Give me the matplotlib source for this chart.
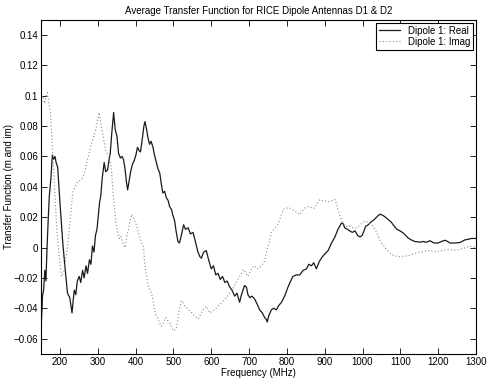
import matplotlib

matplotlib.use("Agg")

import matplotlib.pyplot as plt

# Dipole 1, real part (solid trace)
real_freq_mhz = [
    150, 154, 157, 160, 163, 166, 169, 172, 176, 180, 183, 187, 190, 194, 200, 207, 213, 220,
    226, 232, 235, 238, 242, 246, 251, 255, 260, 264, 269, 273, 278, 282, 286, 290, 294, 298,
    302, 305, 308, 312, 317, 321, 326, 330, 333, 337, 342, 346, 351, 355, 360, 364, 368, 372,
    376, 379, 383, 387, 392, 396, 401, 405, 409, 413, 418, 422, 425, 429, 433, 437, 441, 446,
    450, 455, 459, 464, 468, 472, 477, 481, 486, 490, 495, 499, 503, 507, 512, 516, 521, 527,
    532, 539, 545, 552, 558, 565, 570, 574, 580, 587, 593, 600, 606, 612, 618, 624, 630, 636,
    642, 649, 655, 662, 668, 675, 680, 684, 688, 693, 697, 702, 708, 715, 721, 728, 735, 741,
    745, 748, 752, 759, 765, 772, 779, 786, 794, 803, 810, 816, 825, 834, 843, 852, 858, 865,
    871, 878, 886, 894, 901, 909, 918, 927, 935, 944, 948, 953, 960, 966, 973, 980, 987, 993,
    999, 1004, 1008, 1015, 1023, 1029, 1035, 1041, 1047, 1055, 1063, 1070, 1076, 1084, 1091,
    1099, 1107, 1114, 1120, 1129, 1138, 1145, 1151, 1160, 1169, 1178, 1189, 1200, 1209, 1218,
    1225, 1231, 1244, 1257, 1263, 1270, 1280, 1288, 1297, 1300,
]
real_values = [
    -0.055, -0.032, -0.028, -0.015, -0.022, 0.0, 0.018, 0.034, 0.045, 0.061, 0.058, 0.060,
    0.056, 0.053, 0.030, 0.005, -0.012, -0.030, -0.033, -0.043, -0.035, -0.028, -0.031, -0.022,
    -0.019, -0.023, -0.015, -0.020, -0.012, -0.017, -0.008, -0.011, 0.001, -0.003, 0.008, 0.012,
    0.022, 0.030, 0.034, 0.046, 0.056, 0.050, 0.051, 0.058, 0.062, 0.075, 0.089, 0.078, 0.073,
    0.062, 0.059, 0.060, 0.058, 0.052, 0.043, 0.038, 0.044, 0.050, 0.055, 0.057, 0.061, 0.066,
    0.064, 0.063, 0.072, 0.080, 0.083, 0.078, 0.072, 0.068, 0.070, 0.066, 0.061, 0.056, 0.052,
    0.049, 0.042, 0.036, 0.037, 0.033, 0.031, 0.027, 0.025, 0.021, 0.018, 0.011, 0.004, 0.003,
    0.008, 0.015, 0.012, 0.013, 0.009, 0.010, 0.004, -0.003, -0.006, -0.007, -0.003, -0.002,
    -0.008, -0.014, -0.012, -0.018, -0.017, -0.021, -0.019, -0.023, -0.022, -0.026, -0.028,
    -0.032, -0.030, -0.036, -0.031, -0.028, -0.025, -0.026, -0.031, -0.033, -0.032, -0.034,
    -0.037, -0.041, -0.043, -0.046, -0.047, -0.049, -0.045, -0.041, -0.040, -0.041, -0.038,
    -0.036, -0.032, -0.026, -0.022, -0.019, -0.018, -0.018, -0.015, -0.014, -0.011, -0.012,
    -0.010, -0.014, -0.009, -0.006, -0.004, -0.002, 0.003, 0.007, 0.012, 0.016, 0.016, 0.013,
    0.012, 0.011, 0.010, 0.011, 0.008, 0.007, 0.008, 0.011, 0.014, 0.015, 0.017, 0.018, 0.0195,
    0.021, 0.022, 0.021, 0.0195, 0.018, 0.0167, 0.014, 0.012, 0.011, 0.0097, 0.008, 0.0064,
    0.005, 0.004, 0.0038, 0.0035, 0.004, 0.0035, 0.0045, 0.003, 0.003, 0.004, 0.0048, 0.004,
    0.003, 0.003, 0.0033, 0.004, 0.005, 0.0055, 0.006, 0.006, 0.006,
]

# Dipole 1, imaginary part (dotted trace)
imag_freq_mhz = [
    150, 155, 159, 163, 167, 171, 175, 178, 181, 184, 187, 190, 194, 197, 201, 204, 208, 212,
    216, 220, 225, 229, 234, 240, 245, 252, 260, 266, 271, 277, 282, 288, 295, 300, 304, 308,
    313, 318, 322, 327, 331, 334, 337, 340, 344, 348, 353, 357, 361, 366, 372, 377, 383, 387,
    390, 395, 401, 405, 410, 415, 421, 424, 428, 433, 442, 446, 450, 455, 459, 464, 468, 474,
    480, 485, 490, 496, 501, 508, 512, 515, 521, 525, 530, 537, 543, 549, 556, 565, 572, 578,
    587, 596, 602, 609, 616, 622, 629, 636, 643, 649, 655, 662, 668, 675, 680, 684, 690, 697,
    703, 709, 715, 721, 728, 735, 741, 745, 750, 755, 759, 766, 772, 777, 781, 786, 790, 799,
    808, 815, 821, 828, 834, 840, 847, 853, 860, 867, 874, 880, 887, 893, 900, 906, 913, 920,
    927, 932, 936, 940, 944, 948, 953, 961, 966, 975, 984, 990, 997, 1006, 1012, 1017, 1023,
    1028, 1033, 1038, 1044, 1050, 1057, 1063, 1070, 1076, 1083, 1090, 1099, 1107, 1116, 1125,
    1134, 1143, 1151, 1160, 1169, 1178, 1187, 1196, 1204, 1213, 1222, 1231, 1240, 1248, 1257,
    1266, 1275, 1284, 1291, 1297, 1300,
]
imag_values = [
    0.097, 0.100, 0.095, 0.099, 0.102, 0.095, 0.089, 0.075, 0.062, 0.048, 0.034, 0.020, 0.005,
    -0.003, -0.012, -0.019, -0.017, -0.0145, -0.007, 0.001, 0.012, 0.023, 0.036, 0.040, 0.0425,
    0.044, 0.046, 0.050, 0.056, 0.062, 0.067, 0.072, 0.078, 0.084, 0.089, 0.082, 0.075, 0.068,
    0.063, 0.061, 0.060, 0.055, 0.049, 0.038, 0.027, 0.016, 0.0097, 0.006, 0.0075, 0.003, 0.0,
    0.0075, 0.014, 0.019, 0.022, 0.019, 0.016, 0.012, 0.0075, 0.004, 0.0, -0.010, -0.017,
    -0.025, -0.030, -0.035, -0.041, -0.045, -0.047, -0.050, -0.052, -0.049, -0.046, -0.048,
    -0.0495, -0.053, -0.055, -0.053, -0.047, -0.041, -0.035, -0.036, -0.0386, -0.040, -0.042,
    -0.043, -0.045, -0.047, -0.044, -0.041, -0.0386, -0.043, -0.042, -0.041, -0.039, -0.0375,
    -0.036, -0.034, -0.032, -0.030, -0.028, -0.025, -0.022, -0.019, -0.017, -0.0145, -0.016,
    -0.019, -0.016, -0.013, -0.012, -0.014, -0.0134, -0.011, -0.009, -0.004, 0.001, 0.005,
    0.0097, 0.012, 0.014, 0.016, 0.0184, 0.022, 0.025, 0.026, 0.026, 0.025, 0.024, 0.023,
    0.0217, 0.024, 0.026, 0.027, 0.027, 0.026, 0.026, 0.029, 0.0316, 0.031, 0.031, 0.030,
    0.0305, 0.031, 0.0316, 0.028, 0.024, 0.021, 0.0184, 0.016, 0.015, 0.0135, 0.014, 0.013,
    0.013, 0.014, 0.0158, 0.0173, 0.017, 0.016, 0.015, 0.014, 0.012, 0.0097, 0.006, 0.003,
    0.001, -0.0013, -0.003, -0.0046, -0.0053, -0.0057, -0.006, -0.0057, -0.0055, -0.005,
    -0.0042, -0.0035, -0.003, -0.0028, -0.0022, -0.0018, -0.0025, -0.0028, -0.0022, -0.0018,
    -0.0015, -0.0013, -0.0016, -0.0018, -0.001, -0.0005, 0.0, 0.001, 0.0005, 0.0, 0.0,
]

x_ticks = [200, 300, 400, 500, 600, 700, 800, 900, 1000, 1100, 1200, 1300]
y_ticks = [-0.06, -0.04, -0.02, 0.0, 0.02, 0.04, 0.06, 0.08, 0.1, 0.12, 0.14]
y_tick_labels = ["\u22120.06", "\u22120.04", "\u22120.02", "0", "0.02", "0.04", "0.06",
                 "0.08", "0.1", "0.12", "0.14"]

plt.rcParams["font.family"] = ["Liberation Sans", "DejaVu Sans"]
plt.rcParams["font.size"] = 7

fig = plt.figure(figsize=(4.91, 3.88), dpi=100)
ax = fig.add_axes([0.0835, 0.088, 0.886, 0.861])

ax.plot(real_freq_mhz, real_values, color="#1a1a1a", linewidth=0.9, label="Dipole 1: Real")
ax.plot(imag_freq_mhz, imag_values, color="#8a8a8a", linewidth=0.8, linestyle=(0, (1, 2)),
        label="Dipole 1: Imag")

ax.set_xlim(150, 1300)
ax.set_ylim(-0.07, 0.15)
ax.set_xticks(x_ticks)
ax.set_yticks(y_ticks)
ax.set_yticklabels(y_tick_labels)
ax.tick_params(direction="in", top=True, right=True, length=4, width=0.6, pad=2)
for spine in ax.spines.values():
    spine.set_linewidth(0.8)

ax.set_title("Average Transfer Function for RICE Dipole Antennas D1 & D2", fontsize=7, pad=4)
ax.set_xlabel("Frequency (MHz)", labelpad=1)
ax.set_ylabel("Transfer Function (m and im)", labelpad=0)

legend = ax.legend(loc="upper right", fancybox=False, framealpha=1, edgecolor="black",
                   borderaxespad=0.3, handlelength=2.2, borderpad=0.3, labelspacing=0.1,
                   fontsize=7)
legend.get_frame().set_linewidth(0.8)

fig.savefig("out.png", dpi=100)
plt.close(fig)
